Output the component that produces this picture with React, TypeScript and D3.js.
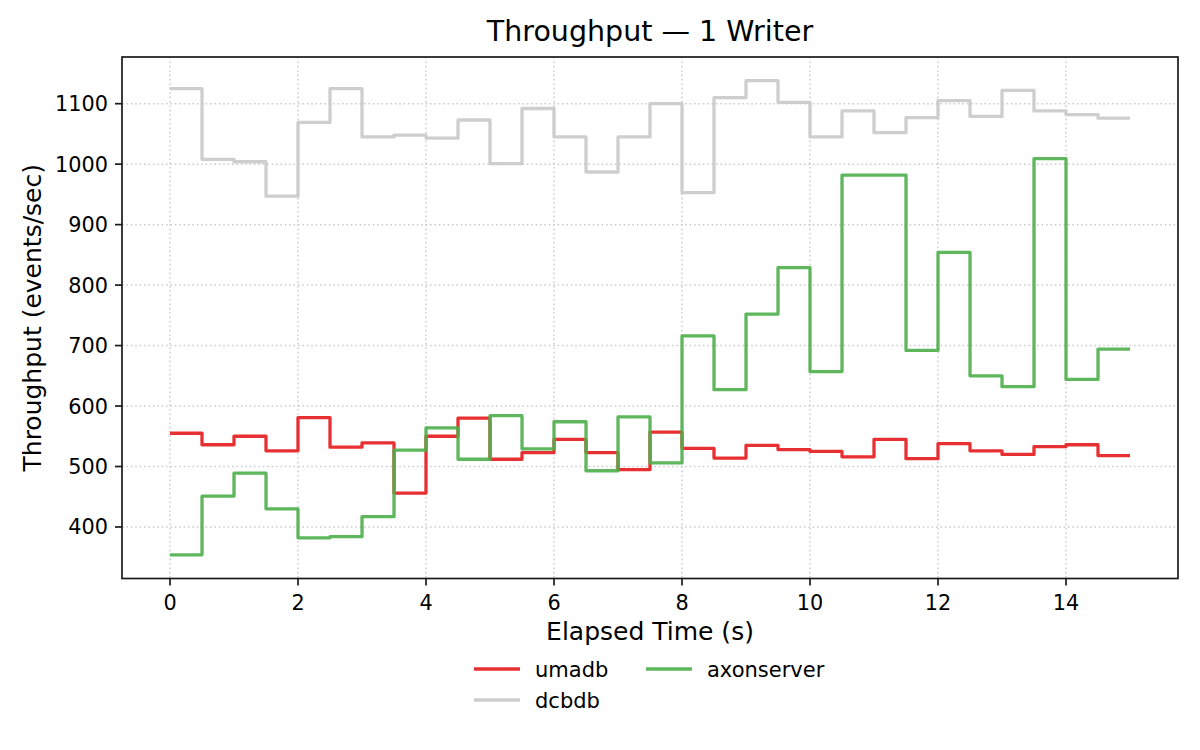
import * as d3 from "d3";

// elapsed time (s), one sample per half second
const times = [
  0, 0.5, 1, 1.5, 2, 2.5, 3, 3.5, 4, 4.5, 5, 5.5, 6, 6.5, 7, 7.5, 8, 8.5, 9, 9.5, 10, 10.5, 11, 11.5, 12,
  12.5, 13, 13.5, 14, 14.5, 15,
];

// throughput, events/sec
const umadb = [
  555, 536, 550, 526, 581, 532, 539, 456, 550, 580, 512, 523, 545, 523, 495, 557, 530, 514, 535, 528, 525,
  516, 545, 513, 538, 526, 520, 533, 536, 518, 518,
];
const dcbdb = [
  1125, 1008, 1004, 947, 1069, 1125, 1045, 1048, 1043, 1073, 1001, 1092, 1045, 987, 1045, 1100, 953, 1110,
  1138, 1102, 1045, 1088, 1052, 1077, 1105, 1079, 1122, 1088, 1082, 1076, 1076,
];
const axonserver = [
  354, 451, 489, 430, 382, 384, 417, 527, 564, 512, 584, 529, 574, 493, 582, 506, 716, 627, 752, 829, 657,
  982, 982, 692, 854, 650, 632, 1009, 644, 694, 694,
];

const xTicks = [0, 2, 4, 6, 8, 10, 12, 14];
const yTicks = [400, 500, 600, 700, 800, 900, 1000, 1100];

const series = [
  { name: "umadb", values: umadb, color: "#e41a1c" },
  { name: "dcbdb", values: dcbdb, color: "#c9c9c9" },
  { name: "axonserver", values: axonserver, color: "#4daf4a" },
];
// legend fills column by column, two columns
const legendOrder = [
  { name: "umadb", col: 0, row: 0 },
  { name: "dcbdb", col: 0, row: 1 },
  { name: "axonserver", col: 1, row: 0 },
];

const W = 1200;
const H = 750;
const margin = { top: 57, right: 22, bottom: 171.5, left: 122 };
const FONT = "DejaVu Sans";
const LW = 3.3;

export default function App() {
  const innerW = W - margin.left - margin.right;
  const innerH = H - margin.top - margin.bottom;

  const [x0, x1] = d3.extent(times) as [number, number];
  const xPad = (x1 - x0) * 0.05;
  const x = d3.scaleLinear().domain([x0 - xPad, x1 + xPad]).range([0, innerW]);

  const all = series.flatMap((s) => s.values);
  const yMin = d3.min(all)!;
  const yMax = d3.max(all)!;
  const yPad = (yMax - yMin) * 0.05;
  const y = d3.scaleLinear().domain([yMin - yPad, yMax + yPad]).range([innerH, 0]);

  const line = d3
    .line<number>()
    .x((_, i) => x(times[i]))
    .y((d) => y(d))
    .curve(d3.curveStepAfter);

  const color = (name: string) => series.find((s) => s.name === name)!.color;

  return (
    <svg
      width={W}
      height={H}
      style={{ position: "absolute", left: 0, top: 0, background: "#fff" }}
      fontFamily={FONT}
    >
      <rect width={W} height={H} fill="#fff" />
      <text x={margin.left + innerW / 2} y={41} textAnchor="middle" fontSize={28.5} fill="#000">
        Throughput — 1 Writer
      </text>

      <g transform={`translate(${margin.left},${margin.top})`}>
        {/* grid */}
        {xTicks.map((t) => (
          <line
            key={`gx${t}`}
            x1={x(t)}
            x2={x(t)}
            y1={0}
            y2={innerH}
            stroke="#cccccc"
            strokeWidth={1.5}
            strokeDasharray="1.6,2.8"
          />
        ))}
        {yTicks.map((t) => (
          <line
            key={`gy${t}`}
            x1={0}
            x2={innerW}
            y1={y(t)}
            y2={y(t)}
            stroke="#cccccc"
            strokeWidth={1.5}
            strokeDasharray="1.6,2.8"
          />
        ))}

        {/* series */}
        {series.map((s) => (
          <path
            key={s.name}
            d={line(s.values) || ""}
            fill="none"
            stroke={s.color}
            strokeOpacity={0.9}
            strokeWidth={LW}
            strokeLinejoin="round"
          />
        ))}

        {/* frame */}
        <rect x={0} y={0} width={innerW} height={innerH} fill="none" stroke="#1a1a1a" strokeWidth={1.7} />

        {/* x axis */}
        {xTicks.map((t) => (
          <g key={`xt${t}`} transform={`translate(${x(t)},${innerH})`}>
            <line y1={0} y2={7} stroke="#1a1a1a" strokeWidth={1.7} />
            <text y={31} textAnchor="middle" fontSize={20.8} fill="#000">
              {t}
            </text>
          </g>
        ))}
        {/* y axis */}
        {yTicks.map((t) => (
          <g key={`yt${t}`} transform={`translate(0,${y(t)})`}>
            <line x1={-7} x2={0} stroke="#1a1a1a" strokeWidth={1.7} />
            <text x={-14} dy={7.5} textAnchor="end" fontSize={20.8} fill="#000">
              {t}
            </text>
          </g>
        ))}
      </g>

      <text x={margin.left + innerW / 2} y={639.5} textAnchor="middle" fontSize={25} fill="#000">
        Elapsed Time (s)
      </text>
      <text
        transform={`translate(40.5,${margin.top + innerH / 2}) rotate(-90)`}
        textAnchor="middle"
        fontSize={25}
        fill="#000"
      >
        Throughput (events/sec)
      </text>

      {/* legend */}
      <g transform="translate(474,669)">
        {legendOrder.map((l) => (
          <g key={l.name} transform={`translate(${l.col * 172},${l.row * 31})`}>
            <line x1={0} x2={46} stroke={color(l.name)} strokeOpacity={0.9} strokeWidth={LW} />
            <text x={61} dy={7.6} fontSize={21} fill="#000">
              {l.name}
            </text>
          </g>
        ))}
      </g>
    </svg>
  );
}
